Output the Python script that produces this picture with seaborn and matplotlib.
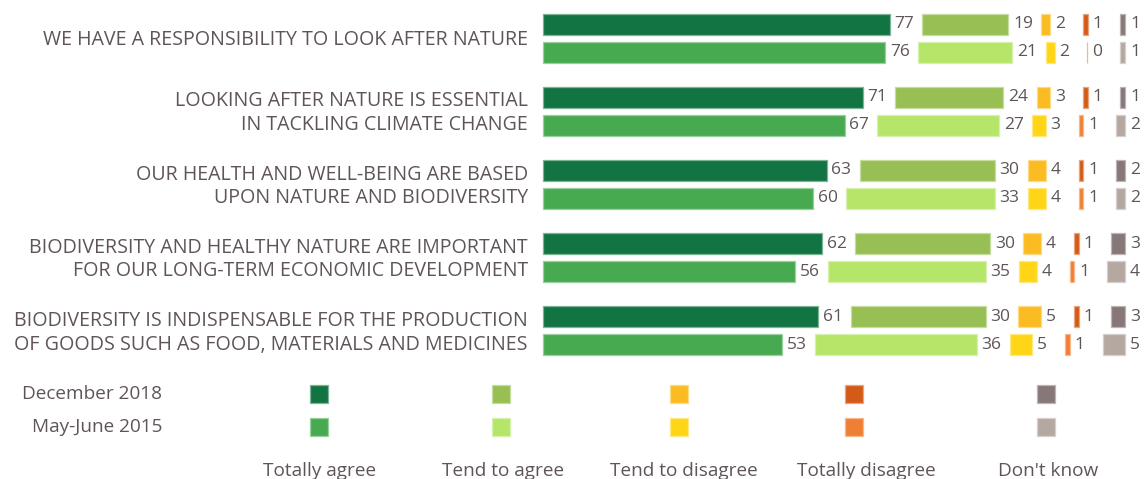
import numpy as np
import matplotlib
matplotlib.use("Agg")
import matplotlib.pyplot as plt
import matplotlib.colors as mcolors
import seaborn as sns

# Survey statements (two-line labels where wrapped)
statements = [
    "WE HAVE A RESPONSIBILITY TO LOOK AFTER NATURE",
    "LOOKING AFTER NATURE IS ESSENTIAL\nIN TACKLING CLIMATE CHANGE",
    "OUR HEALTH AND WELL-BEING ARE BASED\nUPON NATURE AND BIODIVERSITY",
    "BIODIVERSITY AND HEALTHY NATURE ARE IMPORTANT\nFOR OUR LONG-TERM ECONOMIC DEVELOPMENT",
    "BIODIVERSITY IS INDISPENSABLE FOR THE PRODUCTION\nOF GOODS SUCH AS FOOD, MATERIALS AND MEDICINES",
]
answers = ["Totally agree", "Tend to agree", "Tend to disagree", "Totally disagree", "Don't know"]
waves = ["December 2018", "May-June 2015"]

# Shares (%) per statement, in answer order
dec_2018 = [
    [77, 19, 2, 1, 1],
    [71, 24, 3, 1, 1],
    [63, 30, 4, 1, 2],
    [62, 30, 4, 1, 3],
    [61, 30, 5, 1, 3],
]
may_2015 = [
    [76, 21, 2, 0, 1],
    [67, 27, 3, 1, 2],
    [60, 33, 4, 1, 2],
    [56, 35, 4, 1, 4],
    [53, 36, 5, 1, 5],
]

colors_2018 = ["#127442", "#97bf54", "#fbbb22", "#d45b17", "#877779"]
colors_2015 = ["#48aa50", "#b5e66a", "#ffd518", "#ef8033", "#b5a8a1"]

sns.set_theme(style="white")
plt.rcParams["font.family"] = ["Open Sans", "DejaVu Sans"]
TEXT = "#5f5556"

W, H = 1144, 479
fig = plt.figure(figsize=(W / 100, H / 100), dpi=100)
ax = fig.add_axes([0, 0, 1, 1])

# Horizontal scale: 4.5 px per percentage point, bars start at x=543 px
PX = 4.5
X0 = 543
ax.set_xlim(-X0 / PX, (W - X0) / PX)
ax.set_ylim(H, 0)
ax.axis("off")

GAP = 33 / PX          # blank space between consecutive answer segments
ROW_STEP = 73.2
ROW_TOP = 24
PAIR_OFF = 28
BAR_H = 21


def lighten(c, f=0.45):
    r, g, b = mcolors.to_rgb(c)
    return (r + (1 - r) * f, g + (1 - g) * f, b + (1 - b) * f)


for i, stmt in enumerate(statements):
    yc = ROW_TOP + i * ROW_STEP
    for k, (vals, cols) in enumerate(((dec_2018[i], colors_2018), (may_2015[i], colors_2015))):
        y = yc + k * PAIR_OFF
        left = 0.0
        for v, c in zip(vals, cols):
            ax.barh(y, v, left=left, height=BAR_H, color=c,
                    edgecolor=lighten(c), linewidth=0.9)
            ax.text(left + v + 5 / PX, y, f"{v}", ha="left", va="center",
                    fontsize=12.5, color=TEXT)
            left += v + GAP
    ax.text(-15 / PX, yc + PAIR_OFF / 2 + 2, stmt, ha="right", va="center",
            fontsize=14.1, color=TEXT, linespacing=1.25, multialignment="right")

# Legend: one swatch column per answer, one swatch row per wave
leg_x = [319, 501, 679, 854, 1046]
leg_y = [394, 427]
lab_x = [320, 503, 684, 866, 1048]
for j, ans in enumerate(answers):
    for k, cols in enumerate((colors_2018, colors_2015)):
        xs = (leg_x[j] - X0) / PX
        ax.barh(leg_y[k], 18 / PX, left=xs - 9 / PX, height=18,
                color=cols[j], edgecolor=lighten(cols[j]), linewidth=0.9)
    ax.text((lab_x[j] - X0) / PX, 471, ans, ha="center", va="center",
            fontsize=13.7, color=TEXT)
for k, w in enumerate(waves):
    ax.text((162 - X0) / PX, leg_y[k], w, ha="right", va="center",
            fontsize=13.7, color=TEXT)

fig.savefig("out.png", dpi=100)
